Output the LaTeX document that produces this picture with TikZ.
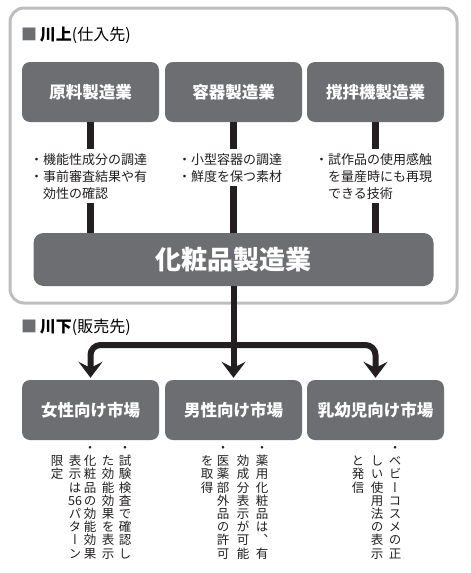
\documentclass[tikz,border=0pt]{standalone}
\usepackage{fontspec}
\setmainfont{Noto Sans CJK JP}
\newfontfamily\vjp[RawFeature=+vert]{Noto Sans CJK JP}
\usetikzlibrary{arrows.meta}
\definecolor{boxgray}{HTML}{6D6E71}
\definecolor{framegray}{HTML}{BCBEC0}
\definecolor{inkblack}{HTML}{231F20}
\def\mycell#1{\hbox to 14pt{\hss\vrule height 11.2pt depth 2pt width 0pt #1\hss}}
\ExplSyntaxOn
\NewDocumentCommand\vtext{m}{\vbox{\offinterlineskip\tl_map_function:nN{#1}\mycell}}
\ExplSyntaxOff
\begin{document}
\begin{tikzpicture}[x=1pt,y=-1pt,
  box/.style={fill=boxgray, rounded corners=8pt, text=white, font=\bfseries\fontsize{16.5}{18}\selectfont, minimum width=137pt, minimum height=60pt, inner sep=0pt},
  bigbox/.style={fill=boxgray, rounded corners=10pt, text=white, font=\bfseries\fontsize{26}{28}\selectfont, minimum width=400pt, minimum height=53pt, inner sep=0pt},
  hdr/.style={anchor=west, inner sep=0pt, font=\fontsize{16}{18}\selectfont},
  stem/.style={line width=7pt, draw=inkblack},
  note/.style={anchor=north west, fill=white, align=left, inner xsep=2pt, inner ysep=4pt, font=\fontsize{13}{17}\selectfont, text=inkblack},
  conn/.style={line width=6pt, draw=inkblack, rounded corners=10pt, shorten >=2pt, -{Stealth[length=16pt, width=24pt, inset=6pt]}},
  vt/.style={anchor=north, inner sep=0pt, text=inkblack, font=\vjp\fontsize{12.5}{13}\selectfont}]
\useasboundingbox (0,0) rectangle (471,573);
\fill[white] (0,0) rectangle (471,573);
\draw[framegray, line width=3pt, rounded corners=14pt] (10,8) rectangle (457,303);
\node[hdr] (hup) at (21,35) {{\color{boxgray}■}\,\textbf{川上}(仕入先)};
\node[hdr] (hdown) at (21,327) {{\color{boxgray}■}\,\textbf{川下}(販売先)};
\node[box] (u1) at (90.5,92) {原料製造業};
\node[box] (u2) at (233.5,92) {容器製造業};
\node[box] (u3) at (375.5,92) {撹拌機製造業};
\node[bigbox] (mfg) at (233.5,259.5) {化粧品製造業};
\draw[stem] (u1.south) -- (u1.south |- mfg.north);
\draw[stem] (u2.south) -- (u2.south |- mfg.north);
\draw[stem] (u3.south) -- (u3.south |- mfg.north);
\node[note] (n1) at (28,149) {・機能性成分の調達\\・事前審査結果や有\\\hspace*{1em}効性の確認};
\node[note] (n2) at (176,149) {・小型容器の調達\\・鮮度を保つ素材};
\node[note] (n3) at (313,149) {・試作品の使用感触\\\hspace*{1em}を量産時にも再現\\\hspace*{1em}できる技術};
\node[box] (m1) at (90.5,410) {女性向け市場};
\node[box] (m2) at (233.5,410) {男性向け市場};
\node[box] (m3) at (375.5,410) {乳幼児向け市場};
\coordinate (jn) at (233.5,345);
\draw[conn] (jn) -| (m1.north);
\draw[conn] (jn) -| (m3.north);
\draw[conn] (mfg.south) -- (m2.north);
\node[vt] (a1) at (125,441) {\vtext{・試験検査で確認し}};
\node[vt] (a2) at (108,454.2) {\vtext{た効能効果を表示}};
\node[vt] (a3) at (90,441) {\vtext{・化粧品の効能効果}};
\node[vt] (a4) at (75,454.2) {\vtext{表示は{56}パターン}};
\node[vt] (a5) at (57,454.2) {\vtext{限定}};
\node[vt] (b1) at (262,441) {\vtext{・薬用化粧品は、有}};
\node[vt] (b2) at (243,454.2) {\vtext{効成分表示が可能}};
\node[vt] (b3) at (223,441) {\vtext{・医薬部外品の許可}};
\node[vt] (b4) at (207,454.2) {\vtext{を取得}};
\node[vt] (c1) at (395,441) {\vtext{・ベビーコスメの正}};
\node[vt] (c2) at (377,454.2) {\vtext{しい使用法の表示}};
\node[vt] (c3) at (358,454.2) {\vtext{と発信}};
\end{tikzpicture}
\end{document}
